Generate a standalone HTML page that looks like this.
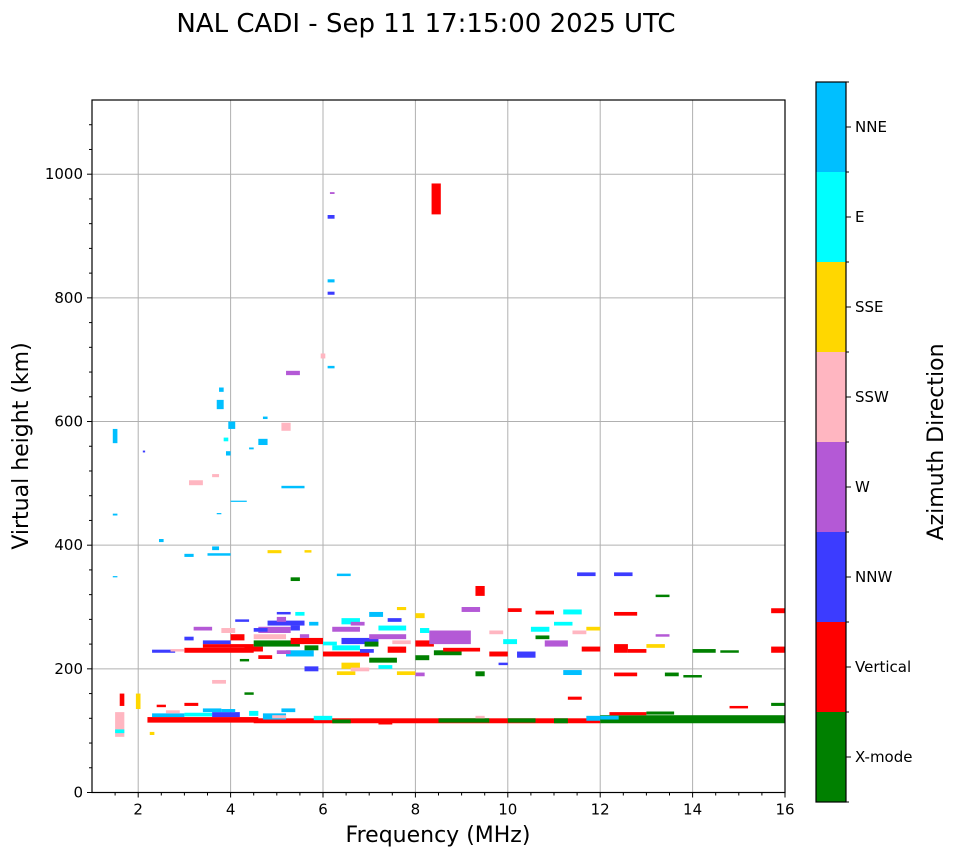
<!DOCTYPE html>
<html><head><meta charset="utf-8"><style>
body{margin:0;background:#fff;font-family:"Liberation Sans","DejaVu Sans",sans-serif}
svg text{font-family:"DejaVu Sans","Liberation Sans",sans-serif}
</style></head><body>
<svg id="chart" width="958" height="857" xmlns="http://www.w3.org/2000/svg">
<text x="426" y="32" font-size="26" text-anchor="middle">NAL CADI - Sep 11 17:15:00 2025 UTC</text>
<g id="grid"></g>
<g id="marks"></g>
<rect x="92" y="100" width="693" height="692.5" fill="none" stroke="#000" stroke-width="1.2"/>
<g id="axes"></g>
<text x="438" y="842" font-size="22" text-anchor="middle">Frequency (MHz)</text>
<text transform="translate(28,446) rotate(-90)" font-size="22" text-anchor="middle">Virtual height (km)</text>
<g id="cbar"></g>
<text transform="translate(943,442) rotate(-90)" font-size="22" text-anchor="middle">Azimuth Direction</text>
</svg>
<script>
const modeLabels=["X-mode","Vertical","NNW","W","SSW","SSE","E","NNE"];
const modeColors=["#008000","#ff0000","#3c3cff","#b459d6","#ffb6c1","#ffd700","#00ffff","#00bfff"];
const xTicks=[2,4,6,8,10,12,14,16];
const yTicks=[0,200,400,600,800,1000];
const freqStart=[4.5,2.2,2.3,3.0,3.6,4.7,5.8,6.2,7.2,8.5,10.0,11.0,11.7,12.0,12.2,13.0,15.7,14.8,1.5,1.95,2.25,3.8,4.9,12.0,
2.3,3.0,3.4,3.4,4.3,4.5,4.5,4.6,4.8,5.3,5.2,6.0,6.2,6.4,6.2,6.4,6.3,7.0,7.0,7.2,7.4,8.0,8.3,8.4,8.6,9.3,9.3,9.0,9.6,10.2,10.5,10.8,11.2,11.2,11.6,11.5,12.3,12.3,12.3,12.3,12.6,13.0,13.2,13.4,13.8,14.0,14.6,15.7,15.7,5.3,6.3,7.6,8.0,2.7,3.0,4.0,5.6,4.2,5.0,6.4,7.6,10.6,13.2,8.0,
8.35,6.1,6.1,6.1,6.15,6.1,5.95,5.1,4.7,3.7,3.75,3.9,3.95,3.85,3.1,3.6,4.0,5.1,4.6,4.4,1.45,1.45,3.0,3.6,4.8,5.6,5.2,2.45,3.7,3.5,1.45,2.1,
4.5,5.0,5.3,5.5,5.6,4.6,5.0,5.4,5.7,6.6,6.9,7.0,7.4,7.5,6.0,6.8,7.2,6.6,8.1,8.0,9.6,9.9,10.0,10.6,11.0,11.4,11.7,9.8,3.2,3.8,4.1,2.6,3.4,2.4,3.0,3.6,4.3,1.5,1.6,4.4,5.1,9.3,11.3];
const freqEnd=[12.0,4.6,3.0,3.6,4.2,5.2,6.2,6.6,7.5,9.6,10.6,11.3,12.0,16.0,13.0,13.6,16.0,15.2,1.7,2.05,2.35,4.1,5.2,12.4,
2.8,4.5,4.5,4.0,4.7,5.5,5.2,5.3,5.6,6.0,5.8,7.0,6.8,7.2,6.8,6.8,6.7,7.6,7.8,7.8,7.8,8.4,9.2,9.0,9.4,9.5,9.5,9.4,10.0,10.6,10.9,11.3,11.6,11.6,12.0,11.9,12.7,12.8,12.6,12.8,13.0,13.4,13.5,13.7,14.2,14.5,15.0,16.0,16.0,5.5,6.6,7.8,8.2,3.0,3.2,4.3,5.9,4.4,5.3,6.8,8.0,11.0,13.5,8.2,
8.55,6.25,6.25,6.25,6.25,6.25,6.05,5.3,4.8,3.85,3.85,4.0,4.1,3.95,3.4,3.75,4.35,5.6,4.8,4.5,1.55,1.55,3.2,3.75,5.1,5.75,5.5,2.55,3.8,4.0,1.55,2.15,
4.8,5.2,5.5,5.7,5.9,4.9,5.3,5.6,5.9,6.9,7.2,7.3,7.7,7.9,6.3,7.1,7.5,7.0,8.3,8.3,9.9,10.2,10.3,10.9,11.4,11.7,12.0,10.0,3.6,4.1,4.4,2.9,3.8,2.6,3.3,3.9,4.5,1.7,1.7,4.6,5.4,9.5,11.6];
const heightLow=[112,113,122,123,122,118,117,112,110,113,113,112,116,112,125,126,140,136,90,135,93,130,120,118,
226,226,234,240,228,236,248,258,270,240,220,220,230,240,260,272,190,210,248,262,226,236,240,222,228,188,318,292,220,218,260,236,190,288,228,350,350,286,226,188,226,234,252,188,186,226,226,290,226,342,350,295,282,228,246,246,196,212,288,200,190,288,316,188,
935,928,825,805,968,686,702,585,604,620,648,545,588,568,497,510,470,492,562,555,565,448,381,392,387,388,675,405,450,383,348,550,
260,276,262,250,230,216,224,286,270,270,236,284,276,240,238,226,200,196,258,214,256,240,292,248,270,256,262,206,262,258,276,128,130,138,140,176,158,96,140,124,130,120,150];
const heightHigh=[120,122,128,129,130,128,124,118,116,120,120,120,124,125,130,131,145,140,130,160,98,135,125,124,
231,234,240,246,236,246,256,268,278,250,230,228,238,250,268,282,196,218,256,270,236,246,262,230,234,196,334,300,228,228,268,246,198,296,236,356,356,292,240,194,232,240,256,194,190,232,230,298,236,348,354,300,290,232,252,256,204,216,292,210,196,294,320,194,
985,934,830,810,971,690,710,598,608,635,655,552,600,574,505,515,472,496,572,558,588,451,386,398,392,392,682,410,452,387,350,553,
266,284,270,256,238,222,230,292,276,276,244,292,282,246,244,232,206,202,266,222,262,248,298,254,276,262,268,210,268,266,280,133,136,142,145,182,162,102,160,132,136,124,155];
const modeIdx=[1,1,7,6,2,7,6,0,1,0,0,0,7,0,1,0,0,1,4,5,5,7,4,7,
2,1,1,2,1,0,4,3,2,1,7,1,6,2,3,6,5,0,3,6,1,1,3,0,1,0,1,3,1,2,6,3,7,6,1,2,2,1,1,1,1,5,3,0,0,0,0,1,1,0,7,5,5,4,2,1,2,0,2,5,5,1,0,3,
1,2,7,2,3,7,4,4,7,7,7,7,7,6,4,4,7,7,7,7,7,7,7,7,5,5,3,7,7,7,7,2,
2,3,2,3,0,1,3,6,7,3,0,7,2,4,6,2,6,4,6,0,4,6,1,0,6,4,5,2,3,4,2,4,7,1,1,4,0,6,1,6,7,4,1];

const NS="http://www.w3.org/2000/svg";
const L=92,R=785,T=100,B=792.5,XMIN=1,XMAX=16,YMIN=0,YMAX=1120;
const X=f=>L+(f-XMIN)/(XMAX-XMIN)*(R-L);
const Y=h=>B-(h-YMIN)/(YMAX-YMIN)*(B-T);
function mk(tag,attrs,parent){const e=document.createElementNS(NS,tag);for(const k in attrs)e.setAttribute(k,attrs[k]);parent.appendChild(e);return e;}
const grid=document.getElementById('grid'),axes=document.getElementById('axes'),marks=document.getElementById('marks'),cbar=document.getElementById('cbar');
xTicks.forEach(v=>{
 const g=mk('line',{x1:X(v),x2:X(v),y1:T,y2:B,stroke:'#b0b0b0','stroke-width':1},grid);
 
 
 mk('line',{x1:X(v),x2:X(v),y1:B,y2:B+5,stroke:'#000'},axes);
 const t=mk('text',{x:X(v),y:B+22,'font-size':15,'text-anchor':'middle'},axes);t.textContent=v;
 
 
});
for(let v=1.5;v<16;v+=0.5){if(v%2!==0)mk('line',{x1:X(v),x2:X(v),y1:B,y2:B+3,stroke:'#000'},axes);}
yTicks.forEach(v=>{
 if(v>0){const g=mk('line',{x1:L,x2:R,y1:Y(v),y2:Y(v),stroke:'#b0b0b0','stroke-width':1},grid);
 
 }
 mk('line',{x1:L-5,x2:L,y1:Y(v),y2:Y(v),stroke:'#000'},axes);
 const t=mk('text',{x:L-9,y:Y(v)+5,'font-size':15,'text-anchor':'end'},axes);t.textContent=v;
 
 
});
for(let v=40;v<1120;v+=40){if(v%200!==0)mk('line',{x1:L-3,x2:L,y1:Y(v),y2:Y(v),stroke:'#000'},axes);}
for(let i=0;i<freqStart.length;i++){
 const x0=X(freqStart[i]),x1=X(freqEnd[i]),y0=Y(heightHigh[i]),y1=Y(heightLow[i]);
 const r=mk('rect',{x:x0,y:y0,width:Math.max(1,x1-x0),height:Math.max(1,y1-y0),fill:modeColors[modeIdx[i]]},marks);
 
 
}
const CL=816,CR=846,CT=82,CB=802,seg=(CB-CT)/modeLabels.length;
modeLabels.forEach((m,i)=>{
 const y0=CB-(i+1)*seg;
 const r=mk('rect',{x:CL,y:y0,width:CR-CL,height:seg,fill:modeColors[i]},cbar);
 
 
 mk('line',{x1:CR,x2:CR+5,y1:y0+seg/2,y2:y0+seg/2,stroke:'#000'},cbar);
 const t=mk('text',{x:CR+9,y:y0+seg/2+5,'font-size':15},cbar);t.textContent=m;
 
 
});
for(let i=0;i<=modeLabels.length;i++)mk('line',{x1:CR,x2:CR+3,y1:CB-i*seg,y2:CB-i*seg,stroke:'#000'},cbar);
mk('rect',{x:CL,y:CT,width:CR-CL,height:CB-CT,fill:'none',stroke:'#000','stroke-width':1.2},cbar);
</script>
</body></html>
